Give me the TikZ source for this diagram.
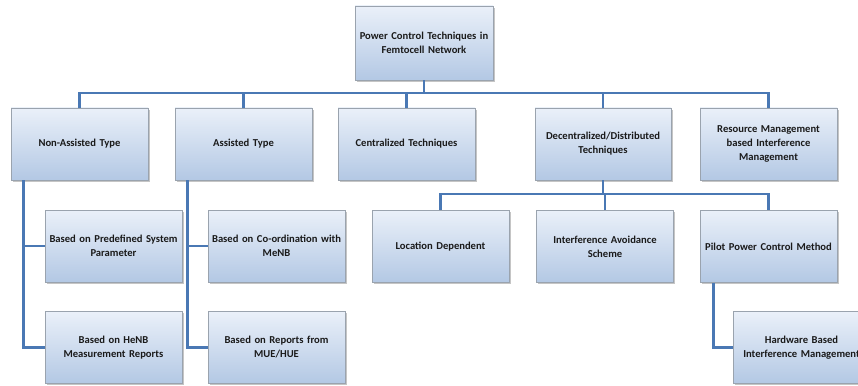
\documentclass[tikz,border=0pt]{standalone}
\usepackage{fontspec}
\setmainfont{Carlito}
\usetikzlibrary{shadows}
\definecolor{conncol}{HTML}{4A78B4}
\definecolor{boxtop}{HTML}{EAF0F9}
\definecolor{boxbot}{HTML}{B3C8E4}
\definecolor{boxline}{HTML}{9AA3AE}
\definecolor{txtcol}{HTML}{1A1A1A}
\tikzset{
  box/.style={draw=boxline, line width=0.8pt, top color=boxtop, bottom color=boxbot,
    minimum width=137pt, minimum height=72pt, text width=136pt, align=center,
    inner xsep=0pt, inner ysep=1pt, font=\fontsize{10.6}{14}\selectfont\bfseries, text=txtcol,
    drop shadow={shadow xshift=1.5pt, shadow yshift=-1.8pt, fill=black!45, opacity=0.5}},
  conn/.style={draw=conncol, line width=2.3pt}
}
\begin{document}
\begin{tikzpicture}[x=1pt,y=-1pt]
\useasboundingbox (0,0) rectangle (858,385);
\clip (0,0) rectangle (858,385);
\fill[white] (0,0) rectangle (858,385);
\coordinate (bus) at (0,93);
\coordinate (bus2) at (0,194);
\node[box, minimum width=138pt, minimum height=74pt] (top) at (424,43) {Power Control Techniques in\\Femtocell Network};
\node[box] (n1) at (79.5,144) {Non-Assisted Type};
\node[box] (n2) at (243.5,144) {Assisted Type};
\node[box] (n3) at (406.5,144) {Centralized Techniques};
\node[box, minimum width=134pt] (n4) at (603,144) {Decentralized/Distributed\\Techniques};
\node[box] (n5) at (768.5,144) {Resource Management\\based Interference\\Management};
\node[box] (a1) at (113.5,246) {Based on Predefined System\\Parameter};
\node[box] (a2) at (113.5,347.5) {Based on HeNB\\Measurement Reports};
\node[box] (b1) at (276.5,246) {Based on Co-ordination with\\MeNB};
\node[box] (b2) at (276.5,347.5) {Based on Reports from\\MUE/HUE};
\node[box] (l1) at (440.5,246.5) {Location Dependent};
\node[box] (l2) at (605,246.5) {Interference Avoidance\\Scheme};
\node[box] (l3) at (768.5,246.5) {Pilot Power Control Method};
\node[box] (hw) at (801.5,347.5) {Hardware Based\\Interference Management};
\draw[conn] (top.south) -- (top.south |- bus);
\draw[conn] (n1.north) -- (n1.north |- bus) -- (n5.north |- bus) -- (n5.north);
\draw[conn] (n2.north) -- (n2.north |- bus);
\draw[conn] (n3.north) -- (n3.north |- bus);
\draw[conn] (n4.north) -- (n4.north |- bus);
\draw[conn] ([xshift=13pt]n1.south west) |- (a1.west);
\draw[conn] ([xshift=13pt]n1.south west) |- (a2.west);
\draw[conn] ([xshift=13pt]n2.south west) |- (b1.west);
\draw[conn] ([xshift=13pt]n2.south west) |- (b2.west);
\draw[conn] (n4.south) -- (n4.south |- bus2);
\draw[conn] (l1.north) -- (l1.north |- bus2) -- (l3.north |- bus2) -- (l3.north);
\draw[conn] (l2.north) -- (l2.north |- bus2);
\draw[conn] ([xshift=14pt]l3.south west) |- (hw.west);
\end{tikzpicture}
\end{document}
